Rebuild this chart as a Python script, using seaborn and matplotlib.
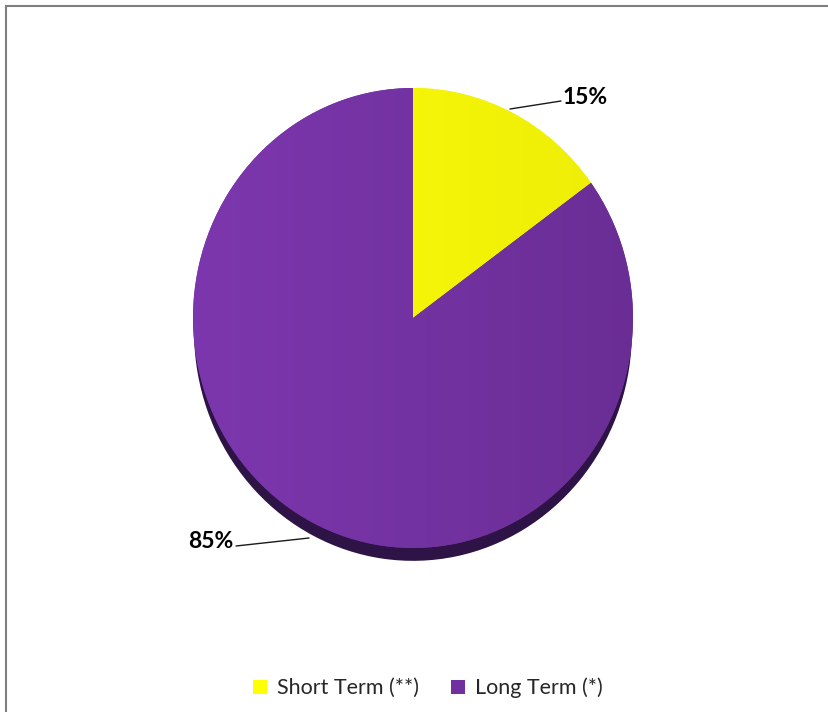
import numpy as np
import matplotlib
matplotlib.use("Agg")
import matplotlib.pyplot as plt
from matplotlib.patches import Rectangle, Patch
from matplotlib.lines import Line2D
import seaborn as sns

# Chart data
categories = ["Short Term (**)", "Long Term (*)"]
shares = [15, 85]
slice_colors = ["#F4F407", "#7231A0"]
shadow_colors = ["#2e1346", "#2e1346"]
legend_colors = ["#FFFF00", "#7030A0"]

sns.set_theme(style="white")
plt.rcParams["font.family"] = ["Lato", "DejaVu Sans"]

W, H = 829, 712
fig = plt.figure(figsize=(W / 100, H / 100), dpi=100)

# pie face spans x 193..633 px and y 88..548 px (slightly tilted look)
left, right, top, bottom = 193, 633, 88, 548
ax = fig.add_axes([left / W, 1 - bottom / H, (right - left) / W, (bottom - top) / H])

shadow_dy = 14 / ((bottom - top) / 2)

# drop shadow underneath the pie
ax.pie(shares, colors=shadow_colors, startangle=90, counterclock=False,
       radius=0.995, center=(0, -shadow_dy), frame=True,
       wedgeprops=dict(linewidth=0))

wedges, _ = ax.pie(shares, colors=slice_colors, startangle=90, counterclock=False,
                   radius=1, center=(0, 0), frame=True,
                   wedgeprops=dict(linewidth=0))

# soft left-to-right shading on each slice
grad = np.linspace(0, 1, 256).reshape(1, -1)
strength = [0.03, 0.07]
for w, col, s in zip(wedges, slice_colors, strength):
    base = np.array(matplotlib.colors.to_rgb(col))
    light = np.clip(base * (1 + s) + 0.01, 0, 1)
    dark = base * (1 - s)
    img = light[None, None, :] * (1 - grad[..., None]) + dark[None, None, :] * grad[..., None]
    im = ax.imshow(img, extent=(-1, 1, -1, 1), aspect="auto",
                   zorder=w.get_zorder() + 0.1, interpolation="bilinear")
    im.set_clip_path(w)

ax.set_xlim(-1, 1)
ax.set_ylim(-1, 1)
ax.set_aspect("auto")
ax.axis("off")

def fx(px):
    return px / W

def fy(py):
    return 1 - py / H

# percentage labels with leader lines
label_pos = [(585, 97), (211, 541)]
line_end = [(561, 101), (236, 546)]
anchors = [(510, 109), (309, 538)]
for val, tp, le, an in zip(shares, label_pos, line_end, anchors):
    fig.add_artist(Line2D([fx(an[0]), fx(le[0])], [fy(an[1]), fy(le[1])],
                          transform=fig.transFigure, color="#1a1a1a", lw=1.0))
    fig.text(fx(tp[0]), fy(tp[1]), f"{val}%", ha="center", va="center",
             fontsize=16.5, fontweight="bold", color="black")

handles = [Patch(facecolor=c, edgecolor="none") for c in legend_colors]
fig.legend(handles, categories, loc="center", ncol=2,
           bbox_to_anchor=(428 / W, 1 - 688 / H), frameon=False,
           fontsize=15.5, handlelength=0.65, handleheight=0.65,
           handletextpad=0.45, columnspacing=1.5)

# outer chart border
fig.patches.append(Rectangle((6.5 / W, -0.05), 1.1, 1.05 - 5.5 / H,
                             transform=fig.transFigure, fill=False,
                             edgecolor="#7f7f7f", lw=1.5))

fig.savefig("out.png", dpi=100, facecolor="white")
